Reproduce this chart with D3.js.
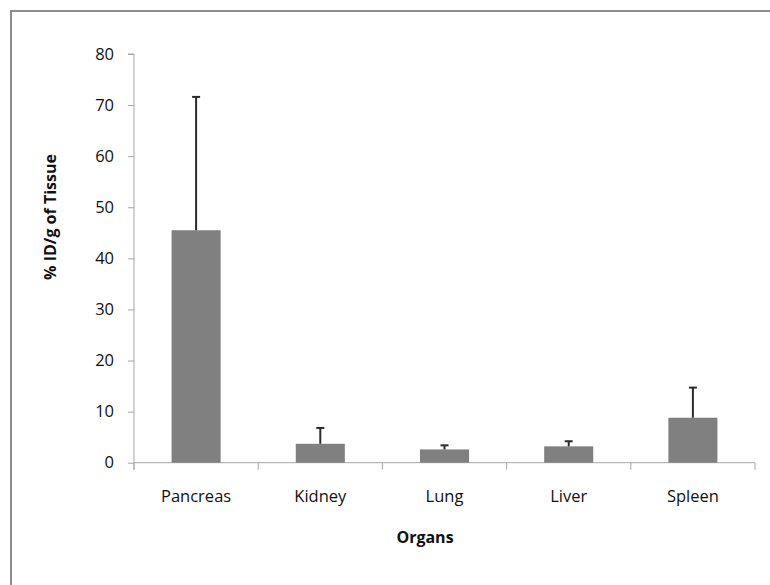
<!DOCTYPE html>
<html>
<head>
<meta charset="utf-8">
<script src="https://cdn.jsdelivr.net/npm/d3@7"></script>
<style>
  body { margin: 0; background: #fff; }
  text { font-family: "Open Sans", "Noto Sans", sans-serif; fill: #111; }
  .tick text { font-size: 16.5px; }
  .axislabel { font-size: 16px; font-weight: bold; }
</style>
</head>
<body>
<div id="plot"></div>
<script>
// organs and measured uptake (% ID/g), with the upper error bar
var organs = ["Pancreas", "Kidney", "Lung", "Liver", "Spleen"];
var meanValues = [45.5, 3.7, 2.6, 3.2, 8.8];
var errorValues = [26.1, 3.1, 0.8, 1.0, 5.9];
var yTicks = [0, 10, 20, 30, 40, 50, 60, 70, 80];

var data = organs.map(function(d, i) {
    return { organ: d, mean: meanValues[i], err: errorValues[i] };
});

var width = 770, height = 585;
var margin = {top: 54, right: 15, bottom: 122, left: 134};

var svg = d3.select("#plot")
  .append("svg")
    .attr("width", width)
    .attr("height", height);

// outer frame: only top and left edges are visible
svg.append("path")
    .attr("d", "M11,585 V11 H770")
    .attr("fill", "none")
    .attr("stroke", "#8c8c8c")
    .attr("stroke-width", 2);

// scales
var xscale = d3.scaleBand()
    .domain(organs)
    .range([margin.left, width - margin.right]);

var yscale = d3.scaleLinear()
    .domain([0, 80])
    .range([height - margin.bottom - 0.3, margin.top]);

// y axis
var yAxis = d3.axisLeft(yscale).tickValues(yTicks).tickSize(6).tickPadding(14);
var gy = svg.append("g")
    .attr("transform", `translate(${margin.left},0)`)
    .call(yAxis);
gy.select(".domain").attr("stroke", "#a6a6a6").attr("d", `M-6,${yscale(80)}H0V${yscale(0) + 7}`);
gy.selectAll(".tick line").attr("stroke", "#a6a6a6");

// x axis, ticks sit at the band edges
var gx = svg.append("g")
    .attr("transform", `translate(0,${yscale(0)})`);
gx.append("line")
    .attr("x1", margin.left).attr("x2", width - margin.right)
    .attr("stroke", "#a6a6a6");
var edges = organs.map(function(d) { return xscale(d); }).concat([xscale.range()[1]]);
gx.selectAll(".edge")
  .data(edges)
  .join("line")
    .attr("class", "edge")
    .attr("x1", function(d) { return d; })
    .attr("x2", function(d) { return d; })
    .attr("y1", 0).attr("y2", 7)
    .attr("stroke", "#a6a6a6");
gx.selectAll(".lab")
  .data(organs)
  .join("text")
    .attr("class", "lab")
    .attr("x", function(d) { return xscale(d) + xscale.bandwidth() / 2; })
    .attr("y", 39)
    .attr("text-anchor", "middle")
    .style("font-size", "16.5px")
    .text(function(d) { return d; });

// bars
var barW = xscale.bandwidth() * 0.395;
svg.append("g")
  .selectAll("rect")
  .data(data)
  .join("rect")
    .attr("x", function(d) { return xscale(d.organ) + xscale.bandwidth() / 2 - barW / 2; })
    .attr("y", function(d) { return yscale(d.mean); })
    .attr("width", barW)
    .attr("height", function(d) { return yscale(0) - yscale(d.mean); })
    .attr("fill", "#808080");

// error bars (upper only)
var eb = svg.append("g").attr("stroke", "#2a2a2a").attr("stroke-width", 2);
eb.selectAll(".stem")
  .data(data)
  .join("line")
    .attr("class", "stem")
    .attr("x1", function(d) { return xscale(d.organ) + xscale.bandwidth() / 2; })
    .attr("x2", function(d) { return xscale(d.organ) + xscale.bandwidth() / 2; })
    .attr("y1", function(d) { return yscale(d.mean); })
    .attr("y2", function(d) { return yscale(d.mean + d.err); });
eb.selectAll(".cap")
  .data(data)
  .join("line")
    .attr("class", "cap")
    .attr("x1", function(d) { return xscale(d.organ) + xscale.bandwidth() / 2 - 4; })
    .attr("x2", function(d) { return xscale(d.organ) + xscale.bandwidth() / 2 + 4; })
    .attr("y1", function(d) { return yscale(d.mean + d.err); })
    .attr("y2", function(d) { return yscale(d.mean + d.err); });

// axis titles
svg.append("text")
    .attr("class", "axislabel")
    .attr("text-anchor", "middle")
    .attr("transform", "translate(56,217) rotate(-90)")
    .text("% ID/g of Tissue");

svg.append("text")
    .attr("class", "axislabel")
    .attr("text-anchor", "middle")
    .attr("x", 425)
    .attr("y", 543)
    .text("Organs");
</script>
</body>
</html>
